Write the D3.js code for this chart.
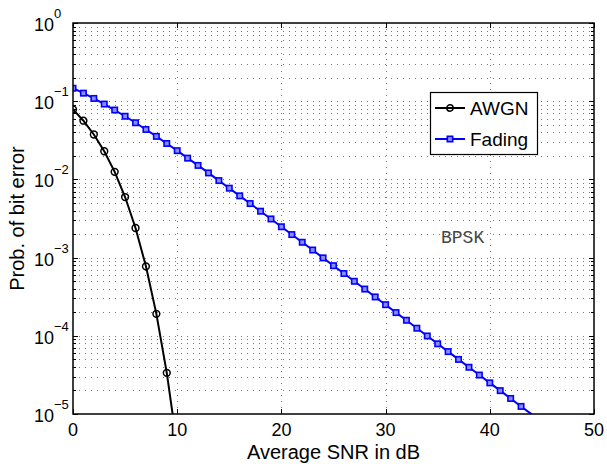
<!DOCTYPE html>
<html>
<head>
<meta charset="utf-8">
<script src="https://cdn.jsdelivr.net/npm/d3@7"></script>
<style>
  body { margin: 0; background: #fff; }
  svg { font-family: "Liberation Sans", Arial, sans-serif; }
</style>
</head>
<body>
<div id="chart"></div>
<script>
// SNR (dB) at each marker
const awgnSnr = [0, 1, 2, 3, 4, 5, 6, 7, 8, 9, 10]
const awgnBer = [0.0786, 0.0563, 0.0375, 0.0229, 0.0125, 0.00595, 0.00239, 0.000773, 0.000191, 3.36e-5, 3.87e-6]

const fadingSnr = d3.range(0, 45)
const fadingBer = [
  0.1464, 0.1267, 0.1085, 0.0919, 0.0771, 0.0642, 0.0530, 0.0435, 0.0355, 0.0288,
  0.0233, 0.0187, 0.0151, 0.0121, 0.00966, 0.00772, 0.00616, 0.00491, 0.00392, 0.00312,
  0.00248, 0.00197, 0.00157, 0.00125, 0.000992, 0.000788, 0.000626, 0.000498, 0.000396, 0.000314,
  0.000250, 0.000198, 0.000158, 0.000125, 9.95e-5, 7.90e-5, 6.28e-5, 4.99e-5, 3.96e-5, 3.15e-5,
  2.50e-5, 1.99e-5, 1.58e-5, 1.25e-5, 9.95e-6
]

const xTicks = [0, 10, 20, 30, 40, 50]
const yExponents = [0, -1, -2, -3, -4, -5]
const seriesNames = ["AWGN", "Fading"]

const WIDTH = 607
const HEIGHT = 464
const PLOT = {LEFT: 73, RIGHT: 594, TOP: 23, BOTTOM: 414}

let svg = d3.select("#chart").append("svg")
    .attr("width", WIDTH)
    .attr("height", HEIGHT)

let xScale = d3.scaleLinear().domain([0, 50]).range([PLOT.LEFT, PLOT.RIGHT])
let yScale = d3.scaleLog().domain([1e-5, 1]).range([PLOT.BOTTOM, PLOT.TOP])

// clip path for the curves
svg.append("clipPath").attr("id", "clip")
  .append("rect")
    .attr("x", PLOT.LEFT).attr("y", PLOT.TOP)
    .attr("width", PLOT.RIGHT - PLOT.LEFT).attr("height", PLOT.BOTTOM - PLOT.TOP)

// minor + major y values for grid
let yGrid = []
yExponents.forEach(e => {
  if (e < 0) for (let m = 1; m <= 9; m++) yGrid.push(m * Math.pow(10, e))
})
yGrid.push(1)

let grid = svg.append("g")
    .attr("stroke", "#777")
    .attr("stroke-width", 1)
    .attr("stroke-dasharray", "1,5")

grid.selectAll(".gy").data(yGrid.filter(v => v > 1e-5 && v < 1)).enter().append("line")
    .attr("x1", PLOT.LEFT).attr("x2", PLOT.RIGHT)
    .attr("y1", d => Math.round(yScale(d)) + 0.5).attr("y2", d => Math.round(yScale(d)) + 0.5)

grid.selectAll(".gx").data(xTicks.slice(1, -1)).enter().append("line")
    .attr("x1", d => Math.round(xScale(d)) + 0.5).attr("x2", d => Math.round(xScale(d)) + 0.5)
    .attr("y1", PLOT.TOP).attr("y2", PLOT.BOTTOM)

// tick marks on all four sides (inward)
let ticks = svg.append("g").attr("stroke", "#000").attr("stroke-width", 1)
xTicks.forEach(t => {
  let x = Math.round(xScale(t)) + 0.5
  ticks.append("line").attr("x1", x).attr("x2", x).attr("y1", PLOT.BOTTOM).attr("y2", PLOT.BOTTOM - 5)
  ticks.append("line").attr("x1", x).attr("x2", x).attr("y1", PLOT.TOP).attr("y2", PLOT.TOP + 5)
})
yGrid.concat([1e-5]).forEach(v => {
  let y = Math.round(yScale(v)) + 0.5
  let major = Math.abs(Math.log10(v) - Math.round(Math.log10(v))) < 1e-9
  let len = major ? 5 : 3
  ticks.append("line").attr("x1", PLOT.LEFT).attr("x2", PLOT.LEFT + len).attr("y1", y).attr("y2", y)
  ticks.append("line").attr("x1", PLOT.RIGHT).attr("x2", PLOT.RIGHT - len).attr("y1", y).attr("y2", y)
})

// curves
let line = d3.line().x(d => xScale(d[0])).y(d => yScale(d[1]))
let awgn = d3.zip(awgnSnr, awgnBer)
let fading = d3.zip(fadingSnr, fadingBer)

let curves = svg.append("g").attr("clip-path", "url(#clip)")
curves.append("path").datum(awgn)
    .attr("d", line).attr("fill", "none").attr("stroke", "#000").attr("stroke-width", 2)
curves.append("path").datum(fading)
    .attr("d", line).attr("fill", "none").attr("stroke", "#0000ff").attr("stroke-width", 2)

curves.selectAll(".ma").data(awgn.filter(d => d[1] >= 1e-5)).enter().append("circle")
    .attr("cx", d => xScale(d[0])).attr("cy", d => yScale(d[1])).attr("r", 3.4)
    .attr("fill", "none").attr("stroke", "#000").attr("stroke-width", 1.5)

curves.selectAll(".mf").data(fading.filter(d => d[1] >= 1e-5)).enter().append("rect")
    .attr("x", d => xScale(d[0]) - 2.7).attr("y", d => yScale(d[1]) - 2.7)
    .attr("width", 5.4).attr("height", 5.4)
    .attr("fill", "#8c8cff").attr("stroke", "#0000ff").attr("stroke-width", 1.6)

// axes box
svg.append("rect")
    .attr("x", PLOT.LEFT).attr("y", PLOT.TOP)
    .attr("width", PLOT.RIGHT - PLOT.LEFT).attr("height", PLOT.BOTTOM - PLOT.TOP)
    .attr("fill", "none").attr("stroke", "#000").attr("stroke-width", 1.5)

// x tick labels
svg.selectAll(".xl").data(xTicks).enter().append("text")
    .attr("x", d => xScale(d)).attr("y", 436)
    .attr("text-anchor", "middle").attr("font-size", 18).attr("fill", "#000")
    .text(d => d)

// y tick labels: 10 with superscript exponent
let yl = svg.selectAll(".yl").data(yExponents).enter().append("g")
    .attr("transform", d => "translate(54," + (yScale(Math.pow(10, d)) + 8) + ")")
yl.append("text")
    .attr("x", 0).attr("y", 0)
    .attr("text-anchor", "end").attr("font-size", 18).attr("fill", "#000")
    .text("10")
yl.append("text")
    .attr("x", 0).attr("y", -13)
    .attr("text-anchor", "start").attr("font-size", 13).attr("fill", "#000")
    .text(d => d < 0 ? "\u2212" + (-d) : d)

// axis titles
svg.append("text")
    .attr("x", (PLOT.LEFT + PLOT.RIGHT) / 2).attr("y", 459)
    .attr("text-anchor", "middle").attr("font-size", 20).attr("fill", "#000")
    .text("Average SNR in dB")
svg.append("text")
    .attr("transform", "translate(24," + (PLOT.TOP + PLOT.BOTTOM) / 2 + ") rotate(-90)")
    .attr("text-anchor", "middle").attr("font-size", 20).attr("fill", "#000")
    .text("Prob. of bit error")

// BPSK annotation
svg.append("text")
    .attr("x", 441).attr("y", 243)
    .attr("font-family", "'Liberation Mono', 'DejaVu Sans Mono', monospace")
    .attr("font-size", 18).attr("fill", "#444")
    .text("BPSK")

// legend
let legend = svg.append("g")
legend.append("rect")
    .attr("x", 430.5).attr("y", 92.5).attr("width", 107).attr("height", 62)
    .attr("fill", "#fff").attr("stroke", "#000").attr("stroke-width", 1.2)
let rows = legend.selectAll(".lr").data(seriesNames).enter().append("g")
    .attr("transform", (d, i) => "translate(435," + (108 + i * 31) + ")")
rows.append("line").attr("x1", 0).attr("x2", 30).attr("y1", 0).attr("y2", 0)
    .attr("stroke", (d, i) => i == 0 ? "#000" : "#0000ff").attr("stroke-width", 2)
rows.filter((d, i) => i == 0).append("circle")
    .attr("cx", 15).attr("cy", 0).attr("r", 3.2)
    .attr("fill", "none").attr("stroke", "#000").attr("stroke-width", 1.5)
rows.filter((d, i) => i == 1).append("rect")
    .attr("x", 12.3).attr("y", -2.7).attr("width", 5.4).attr("height", 5.4)
    .attr("fill", "#8c8cff").attr("stroke", "#0000ff").attr("stroke-width", 1.6)
rows.append("text")
    .attr("x", 35).attr("y", 7).attr("font-size", 19).attr("fill", "#000")
    .text(d => d)
</script>
</body>
</html>
